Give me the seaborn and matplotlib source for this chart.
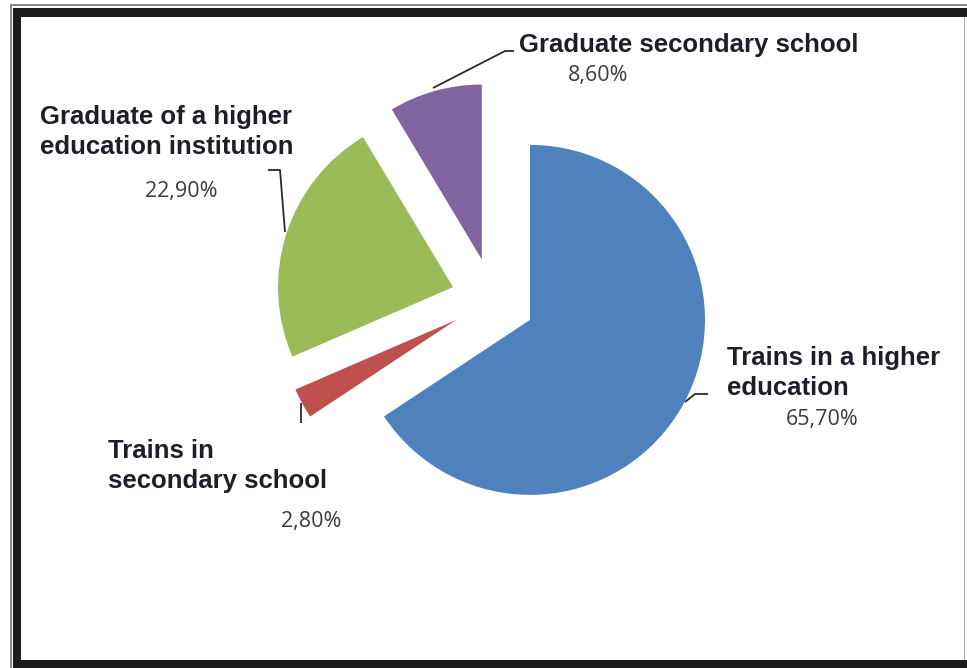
import matplotlib
matplotlib.use("Agg")
import matplotlib.pyplot as plt
from matplotlib.patches import Rectangle
import seaborn as sns

# Survey breakdown (percent of respondents)
categories = [
    "Trains in a higher\neducation",
    "Trains in\nsecondary school",
    "Graduate of a higher\neducation institution",
    "Graduate secondary school",
]
values = [65.7, 2.8, 22.9, 8.6]
slice_colors = ["#4F81BD", "#C0504D", "#9BBB59", "#8064A2"]

sns.set_theme(style="white")
plt.rcParams["font.family"] = ["Liberation Sans", "DejaVu Sans"]

W, H = 967, 668
fig = plt.figure(figsize=(W / 100, H / 100), dpi=100)
ax = fig.add_axes([0, 0, 1, 1])

palette = sns.color_palette(slice_colors)


def iy(y):
    """Convert a top-down pixel row into the axes' bottom-up coordinate."""
    return H - y


ax.pie(
    values,
    colors=palette,
    startangle=90,
    counterclock=False,
    explode=[42] * len(values),
    radius=175,
    center=(493, iy(300)),
    wedgeprops=dict(linewidth=0, antialiased=True),
)
ax.set_xlim(0, W)
ax.set_ylim(0, H)
ax.set_aspect("equal")
ax.axis("off")


def pct(v):
    return f"{v:.2f}".replace(".", ",") + "%"


label_color = "#1e1e2a"
pct_color = "#3c3c3c"
label_kw = dict(fontsize=18.5, fontweight="bold", color=label_color, linespacing=1.3)
pct_kw = dict(fontsize=15.5, color=pct_color, family=["Open Sans", "DejaVu Sans"])

# Category names and percentages
ax.text(727, iy(373), categories[0], ha="left", va="center", **label_kw)
ax.text(822, iy(420), pct(values[0]), ha="center", va="center", **pct_kw)

ax.text(108, iy(466), categories[1], ha="left", va="center", **label_kw)
ax.text(311, iy(521), pct(values[1]), ha="center", va="center", **pct_kw)

ax.text(40, iy(132), categories[2], ha="left", va="center", **label_kw)
ax.text(181, iy(192), pct(values[2]), ha="center", va="center", **pct_kw)

ax.text(519, iy(45), categories[3], ha="left", va="center", **label_kw)
ax.text(598, iy(75), pct(values[3]), ha="center", va="center", **pct_kw)

# Leader lines from each slice to its label
leaders = [
    [(685, 402), (695, 394), (708, 394)],
    [(301, 403), (301, 423)],
    [(285, 232), (280, 170), (268, 170)],
    [(433, 88), (505, 51), (514, 51)],
]
for pts in leaders:
    xs = [p[0] for p in pts]
    ys = [iy(p[1]) for p in pts]
    ax.plot(xs, ys, color="#2a2a2a", linewidth=1.3, solid_capstyle="butt")

# Picture frame: thin outer rule and a heavy dark border
frame_dark = "#1c1c1f"
frame_light = "#8a8a8a"
ax.add_patch(Rectangle((10, 0), 1.6, iy(4), color=frame_light, lw=0))
ax.add_patch(Rectangle((10, iy(5.6)), W - 10, 1.6, color=frame_light, lw=0))
ax.add_patch(Rectangle((13, 0), 8, iy(8), color=frame_dark, lw=0))
ax.add_patch(Rectangle((13, iy(17)), W - 13, 9, color=frame_dark, lw=0))
ax.add_patch(Rectangle((13, 0), W - 13, 8, color=frame_dark, lw=0))
ax.add_patch(Rectangle((963.5, 8), 1.6, iy(17) - 8, color="#b0b0b0", lw=0))

fig.savefig("out.png", dpi=100, facecolor="white")
